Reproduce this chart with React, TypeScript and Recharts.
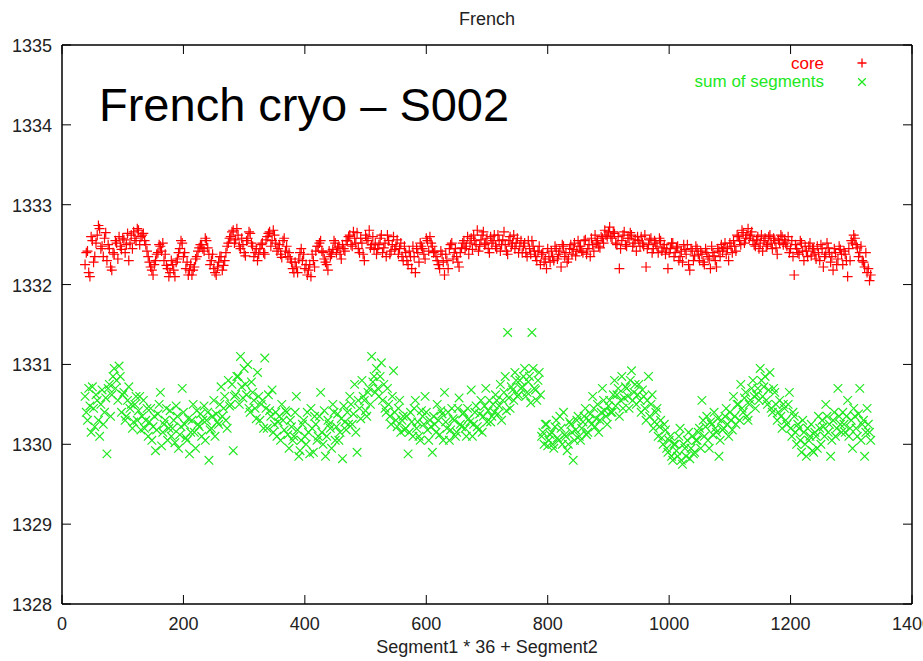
import React from 'react';
import {
  ScatterChart,
  Scatter,
  XAxis,
  YAxis,
  ReferenceLine,
} from 'recharts';

// x = Segment1 * 36 + Segment2; two interleaved samplings (even / odd offsets)
const SEG_START = 38;
const SEG_STEP = 4;
const SEG_OFFSET_B = 2;

const xTicks = [0, 200, 400, 600, 800, 1000, 1200, 1400];
const yTicks = [1328, 1329, 1330, 1331, 1332, 1333, 1334, 1335];

const seriesNames = ['core', 'sum of segments'];

const coreValues = [
  1332.25, 1332.42, 1332.10, 1332.55, 1332.35, 1332.62, 1332.70, 1332.48, 1332.58, 1332.30, 1332.45, 1332.18,
  1332.38, 1332.52, 1332.60, 1332.44, 1332.56, 1332.50, 1332.30, 1332.62, 1332.66, 1332.55, 1332.68, 1332.60,
  1332.64, 1332.50, 1332.35, 1332.22, 1332.12, 1332.30, 1332.40, 1332.48, 1332.52, 1332.38, 1332.20, 1332.15,
  1332.25, 1332.10, 1332.32, 1332.45, 1332.52, 1332.40, 1332.28, 1332.18, 1332.12, 1332.22, 1332.35, 1332.46,
  1332.50, 1332.42, 1332.55, 1332.38, 1332.30, 1332.20, 1332.12, 1332.28, 1332.35, 1332.24, 1332.40, 1332.52,
  1332.60, 1332.68, 1332.56, 1332.62, 1332.45, 1332.50, 1332.36, 1332.58, 1332.64, 1332.48, 1332.40, 1332.30,
  1332.45, 1332.52, 1332.38, 1332.60, 1332.66, 1332.55, 1332.62, 1332.42, 1332.50, 1332.34, 1332.58, 1332.48,
  1332.40, 1332.28, 1332.15, 1332.22, 1332.32, 1332.45, 1332.38, 1332.25, 1332.18, 1332.10, 1332.30, 1332.42,
  1332.48, 1332.55, 1332.40, 1332.28, 1332.18, 1332.35, 1332.44, 1332.52, 1332.46, 1332.38, 1332.50, 1332.42,
  1332.55, 1332.62, 1332.48, 1332.58, 1332.65, 1332.40, 1332.52, 1332.30, 1332.58, 1332.68, 1332.50, 1332.44,
  1332.38, 1332.50, 1332.62, 1332.46, 1332.35, 1332.55, 1332.42, 1332.60, 1332.48, 1332.38, 1332.52, 1332.30,
  1332.40, 1332.25, 1332.35, 1332.48, 1332.15, 1332.40, 1332.52, 1332.45, 1332.32, 1332.55, 1332.60, 1332.48,
  1332.42, 1332.30, 1332.20, 1332.38, 1332.12, 1332.30, 1332.45, 1332.52, 1332.40, 1332.35, 1332.22, 1332.46,
  1332.55, 1332.48, 1332.38, 1332.58, 1332.62, 1332.50, 1332.42, 1332.56, 1332.66, 1332.52, 1332.45, 1332.60,
  1332.55, 1332.48, 1332.62, 1332.42, 1332.56, 1332.50, 1332.38, 1332.60, 1332.52, 1332.45, 1332.58, 1332.48,
  1332.40, 1332.52, 1332.35, 1332.45, 1332.55, 1332.42, 1332.30, 1332.48, 1332.38, 1332.28, 1332.20, 1332.35,
  1332.42, 1332.30, 1332.45, 1332.38, 1332.22, 1332.48, 1332.40, 1332.32, 1332.50, 1332.44, 1332.36, 1332.55,
  1332.48, 1332.40, 1332.56, 1332.45, 1332.35, 1332.50, 1332.62, 1332.55, 1332.46, 1332.58, 1332.68, 1332.60,
  1332.72, 1332.58, 1332.64, 1332.50, 1332.20, 1332.55, 1332.66, 1332.48, 1332.58, 1332.62, 1332.52, 1332.42,
  1332.55, 1332.60, 1332.48, 1332.22, 1332.50, 1332.58, 1332.45, 1332.52, 1332.40, 1332.55, 1332.46, 1332.38,
  1332.20, 1332.45, 1332.52, 1332.40, 1332.48, 1332.35, 1332.28, 1332.44, 1332.50, 1332.18, 1332.42, 1332.36,
  1332.45, 1332.30, 1332.38, 1332.25, 1332.40, 1332.32, 1332.48, 1332.36, 1332.22, 1332.42, 1332.50, 1332.46,
  1332.38, 1332.30, 1332.48, 1332.55, 1332.42, 1332.60, 1332.50, 1332.65, 1332.58, 1332.70, 1332.62, 1332.55,
  1332.48, 1332.60, 1332.52, 1332.42, 1332.58, 1332.50, 1332.62, 1332.45, 1332.55, 1332.38, 1332.52, 1332.60,
  1332.56, 1332.48, 1332.40, 1332.55, 1332.12, 1332.45, 1332.38, 1332.52, 1332.30, 1332.42, 1332.48, 1332.36,
  1332.45, 1332.32, 1332.40, 1332.50, 1332.22, 1332.38, 1332.46, 1332.28, 1332.18, 1332.40, 1332.32, 1332.44,
  1332.25, 1332.38, 1332.10, 1332.30, 1332.52, 1332.58, 1332.46, 1332.40, 1332.30, 1332.22, 1332.15, 1332.05,
];

const coreValuesB = [
  1332.40, 1332.15, 1332.60, 1332.28, 1332.52, 1332.74, 1332.45, 1332.35, 1332.65, 1332.50, 1332.22, 1332.40,
  1332.55, 1332.32, 1332.48, 1332.58, 1332.40, 1332.64, 1332.52, 1332.45, 1332.58, 1332.70, 1332.50, 1332.62,
  1332.55, 1332.42, 1332.28, 1332.18, 1332.25, 1332.38, 1332.50, 1332.42, 1332.30, 1332.24, 1332.10, 1332.30,
  1332.18, 1332.28, 1332.40, 1332.55, 1332.35, 1332.20, 1332.12, 1332.25, 1332.18, 1332.32, 1332.42, 1332.50,
  1332.45, 1332.58, 1332.46, 1332.25, 1332.38, 1332.15, 1332.22, 1332.35, 1332.18, 1332.30, 1332.48, 1332.58,
  1332.66, 1332.52, 1332.70, 1332.48, 1332.58, 1332.40, 1332.55, 1332.66, 1332.52, 1332.35, 1332.45, 1332.38,
  1332.50, 1332.40, 1332.56, 1332.64, 1332.48, 1332.68, 1332.52, 1332.45, 1332.38, 1332.55, 1332.42, 1332.35,
  1332.32, 1332.20, 1332.28, 1332.15, 1332.40, 1332.30, 1332.20, 1332.12, 1332.25, 1332.38, 1332.22, 1332.48,
  1332.52, 1332.42, 1332.32, 1332.25, 1332.42, 1332.38, 1332.55, 1332.40, 1332.48, 1332.32, 1332.45, 1332.55,
  1332.60, 1332.50, 1332.66, 1332.52, 1332.45, 1332.58, 1332.38, 1332.62, 1332.55, 1332.46, 1332.60, 1332.52,
  1332.45, 1332.58, 1332.40, 1332.52, 1332.62, 1332.38, 1332.50, 1332.44, 1332.56, 1332.45, 1332.35, 1332.48,
  1332.30, 1332.42, 1332.20, 1332.35, 1332.45, 1332.28, 1332.48, 1332.38, 1332.58, 1332.42, 1332.52, 1332.40,
  1332.35, 1332.25, 1332.42, 1332.28, 1332.38, 1332.20, 1332.50, 1332.32, 1332.45, 1332.28, 1332.40, 1332.52,
  1332.45, 1332.60, 1332.52, 1332.44, 1332.55, 1332.68, 1332.48, 1332.62, 1332.50, 1332.58, 1332.40, 1332.52,
  1332.62, 1332.45, 1332.55, 1332.50, 1332.66, 1332.42, 1332.55, 1332.48, 1332.62, 1332.52, 1332.40, 1332.55,
  1332.48, 1332.40, 1332.55, 1332.38, 1332.48, 1332.35, 1332.42, 1332.25, 1332.40, 1332.32, 1332.45, 1332.28,
  1332.35, 1332.48, 1332.32, 1332.42, 1332.50, 1332.35, 1332.28, 1332.45, 1332.38, 1332.52, 1332.42, 1332.48,
  1332.42, 1332.55, 1332.38, 1332.50, 1332.58, 1332.42, 1332.52, 1332.48, 1332.60, 1332.52, 1332.62, 1332.66,
  1332.60, 1332.66, 1332.52, 1332.60, 1332.45, 1332.62, 1332.50, 1332.58, 1332.65, 1332.48, 1332.56, 1332.60,
  1332.48, 1332.52, 1332.62, 1332.45, 1332.56, 1332.40, 1332.55, 1332.48, 1332.58, 1332.42, 1332.50, 1332.45,
  1332.40, 1332.52, 1332.35, 1332.46, 1332.30, 1332.42, 1332.50, 1332.38, 1332.25, 1332.45, 1332.30, 1332.48,
  1332.38, 1332.42, 1332.28, 1332.45, 1332.35, 1332.20, 1332.40, 1332.30, 1332.45, 1332.35, 1332.42, 1332.52,
  1332.45, 1332.52, 1332.40, 1332.48, 1332.62, 1332.55, 1332.68, 1332.52, 1332.62, 1332.58, 1332.66, 1332.50,
  1332.56, 1332.45, 1332.62, 1332.55, 1332.48, 1332.60, 1332.52, 1332.58, 1332.46, 1332.56, 1332.62, 1332.50,
  1332.52, 1332.60, 1332.45, 1332.35, 1332.50, 1332.40, 1332.55, 1332.42, 1332.48, 1332.35, 1332.52, 1332.45,
  1332.38, 1332.48, 1332.30, 1332.45, 1332.35, 1332.52, 1332.40, 1332.35, 1332.45, 1332.25, 1332.48, 1332.38,
  1332.42, 1332.30, 1332.45, 1332.55, 1332.62, 1332.50, 1332.35, 1332.48, 1332.28, 1332.40, 1332.20, 1332.12,
];

const sumValues = [
  1330.60, 1330.30, 1330.48, 1330.72, 1330.22, 1330.55, 1330.10, 1330.68, 1330.40, 1329.88, 1330.75, 1330.62,
  1330.95, 1330.80, 1330.98, 1330.40, 1330.65, 1330.35, 1330.72, 1330.50, 1330.28, 1330.60, 1330.42, 1330.18,
  1330.55, 1330.30, 1330.10, 1330.45, 1330.22, 1329.92, 1330.38, 1330.65, 1330.15, 1330.30, 1330.05, 1330.42,
  1330.20, 1330.02, 1330.35, 1330.12, 1330.70, 1330.25, 1330.05, 1329.88, 1330.30, 1330.15, 1330.42, 1330.22,
  1330.10, 1330.48, 1330.30, 1329.80, 1330.20, 1330.55, 1330.38, 1330.25, 1330.72, 1330.45, 1330.30, 1330.80,
  1330.50, 1329.92, 1330.62, 1330.85, 1331.10, 1330.58, 1330.75, 1331.00, 1330.40, 1330.65, 1330.45, 1330.90,
  1330.30, 1330.55, 1331.08, 1330.20, 1330.42, 1330.68, 1330.25, 1330.10, 1330.35, 1330.50, 1330.18, 1330.40,
  1329.95, 1330.22, 1330.10, 1330.60, 1329.85, 1330.05, 1330.30, 1330.00, 1330.15, 1330.45, 1329.90, 1330.25,
  1330.10, 1330.65, 1330.00, 1329.85, 1330.30, 1330.20, 1330.50, 1330.05, 1330.38, 1330.15, 1329.82, 1330.28,
  1330.40, 1330.60, 1330.25, 1330.75, 1329.90, 1330.45, 1330.80, 1330.55, 1330.35, 1330.70, 1331.10, 1330.85,
  1330.95, 1330.60, 1331.02, 1330.75, 1330.40, 1330.50, 1330.25, 1330.92, 1330.30, 1330.45, 1330.15, 1330.35,
  1330.20, 1329.88, 1330.40, 1330.10, 1330.55, 1330.28, 1330.05, 1330.35, 1330.60, 1330.18, 1330.30, 1329.90,
  1330.25, 1330.50, 1330.12, 1330.38, 1330.65, 1330.20, 1330.05, 1330.45, 1330.30, 1330.15, 1330.58, 1330.22,
  1330.40, 1330.10, 1330.32, 1330.68, 1330.25, 1330.48, 1330.18, 1330.55, 1330.35, 1330.70, 1330.42, 1330.28,
  1330.50, 1330.62, 1330.38, 1330.75, 1330.55, 1330.85, 1331.40, 1330.45, 1330.68, 1330.90, 1330.60, 1330.80,
  1330.72, 1330.95, 1330.65, 1330.85, 1331.40, 1330.70, 1330.55, 1330.90, 1330.10, 1330.00, 1330.25, 1330.05,
  1330.15, 1329.95, 1330.30, 1330.05, 1330.20, 1330.40, 1330.10, 1330.00, 1330.25, 1329.80, 1330.18, 1330.35,
  1330.05, 1330.28, 1330.45, 1330.15, 1330.38, 1330.60, 1330.22, 1330.50, 1330.30, 1330.70, 1330.42, 1330.25,
  1330.55, 1330.40, 1330.80, 1330.62, 1330.35, 1330.85, 1330.58, 1330.70, 1330.45, 1330.92, 1330.65, 1330.50,
  1330.75, 1330.40, 1330.60, 1330.30, 1330.85, 1330.50, 1330.20, 1330.40, 1330.10, 1330.30, 1330.00, 1330.18,
  1329.90, 1330.10, 1329.80, 1330.00, 1329.85, 1330.20, 1329.75, 1329.95, 1330.05, 1329.82, 1330.10, 1329.90,
  1330.05, 1330.20, 1330.55, 1330.10, 1330.35, 1329.95, 1330.25, 1330.40, 1330.15, 1329.85, 1330.30, 1330.20,
  1330.45, 1330.10, 1330.30, 1330.60, 1330.25, 1330.50, 1330.75, 1330.40, 1330.65, 1330.30, 1330.55, 1330.80,
  1330.45, 1330.70, 1330.95, 1330.60, 1330.85, 1330.50, 1330.90, 1330.40, 1330.65, 1330.30, 1330.55, 1330.20,
  1330.45, 1330.25, 1330.65, 1330.10, 1330.35, 1330.00, 1330.20, 1329.90, 1330.15, 1329.85, 1330.05, 1330.25,
  1329.90, 1330.10, 1330.35, 1330.00, 1330.22, 1330.50, 1330.15, 1329.85, 1330.30, 1330.10, 1330.70, 1330.25,
  1330.40, 1330.15, 1330.55, 1330.20, 1329.95, 1330.35, 1330.10, 1330.70, 1330.25, 1329.85, 1330.45, 1330.15,
];

const sumValuesB = [
  1330.40, 1330.70, 1330.15, 1330.45, 1330.62, 1330.30, 1330.50, 1330.25, 1330.58, 1330.70, 1330.35, 1330.85,
  1330.70, 1330.55, 1330.85, 1330.62, 1330.30, 1330.55, 1330.45, 1330.20, 1330.50, 1330.30, 1330.60, 1330.35,
  1330.20, 1330.45, 1330.28, 1330.05, 1330.35, 1330.18, 1330.50, 1329.98, 1330.25, 1330.45, 1330.20, 1330.10,
  1330.30, 1330.48, 1329.95, 1330.22, 1330.40, 1330.08, 1330.32, 1330.15, 1330.50, 1329.95, 1330.25, 1330.38,
  1330.30, 1330.05, 1330.40, 1330.18, 1330.35, 1330.10, 1330.28, 1330.50, 1330.35, 1330.60, 1330.20, 1330.48,
  1330.75, 1330.60, 1330.85, 1330.50, 1330.72, 1330.95, 1330.62, 1330.45, 1330.78, 1330.55, 1330.32, 1330.60,
  1330.50, 1330.20, 1330.45, 1330.62, 1330.35, 1330.15, 1330.40, 1330.28, 1330.05, 1330.30, 1330.42, 1330.12,
  1330.30, 1330.05, 1330.40, 1330.18, 1329.92, 1330.25, 1330.10, 1330.40, 1329.88, 1330.20, 1330.35, 1330.05,
  1330.35, 1330.15, 1330.42, 1330.10, 1330.25, 1329.95, 1330.40, 1330.22, 1330.05, 1330.32, 1330.48, 1330.18,
  1330.25, 1330.50, 1330.38, 1330.15, 1330.55, 1330.32, 1330.60, 1330.42, 1330.65, 1330.50, 1330.78, 1330.65,
  1330.70, 1330.85, 1330.55, 1330.45, 1330.70, 1330.35, 1330.60, 1330.40, 1330.22, 1330.55, 1330.30, 1330.18,
  1330.35, 1330.15, 1330.28, 1330.45, 1330.20, 1330.10, 1330.42, 1330.25, 1330.40, 1330.05, 1330.22, 1330.35,
  1330.15, 1330.30, 1330.42, 1330.05, 1330.28, 1330.40, 1330.18, 1330.32, 1330.10, 1330.45, 1330.25, 1330.38,
  1330.20, 1330.45, 1330.28, 1330.10, 1330.40, 1330.22, 1330.38, 1330.15, 1330.48, 1330.28, 1330.55, 1330.35,
  1330.40, 1330.55, 1330.48, 1330.30, 1330.65, 1330.42, 1330.58, 1330.72, 1330.55, 1330.80, 1330.62, 1330.70,
  1330.85, 1330.60, 1330.78, 1330.52, 1330.95, 1330.68, 1330.80, 1330.62, 1330.15, 1330.25, 1329.98, 1330.12,
  1330.00, 1330.22, 1330.08, 1330.35, 1330.00, 1330.12, 1329.92, 1330.28, 1330.15, 1330.05, 1330.30, 1330.10,
  1330.20, 1330.35, 1330.12, 1330.30, 1330.25, 1330.45, 1330.32, 1330.15, 1330.40, 1330.55, 1330.35, 1330.48,
  1330.40, 1330.62, 1330.48, 1330.70, 1330.55, 1330.45, 1330.72, 1330.60, 1330.80, 1330.55, 1330.75, 1330.62,
  1330.55, 1330.68, 1330.45, 1330.55, 1330.35, 1330.62, 1330.28, 1330.45, 1330.22, 1330.08, 1330.25, 1329.95,
  1330.05, 1329.85, 1330.00, 1329.92, 1330.10, 1329.80, 1330.00, 1329.85, 1330.15, 1329.95, 1329.88, 1330.05,
  1330.15, 1329.95, 1330.30, 1330.22, 1330.05, 1330.28, 1330.12, 1330.20, 1330.32, 1330.05, 1330.18, 1330.35,
  1330.25, 1330.40, 1330.18, 1330.35, 1330.50, 1330.30, 1330.45, 1330.58, 1330.35, 1330.50, 1330.70, 1330.60,
  1330.62, 1330.55, 1330.80, 1330.72, 1330.55, 1330.68, 1330.45, 1330.70, 1330.50, 1330.40, 1330.35, 1330.50,
  1330.30, 1330.50, 1330.20, 1330.40, 1330.15, 1330.25, 1330.05, 1330.30, 1330.00, 1330.20, 1330.10, 1329.92,
  1330.15, 1329.95, 1330.20, 1330.30, 1330.10, 1330.35, 1330.25, 1330.05, 1330.40, 1330.20, 1330.35, 1330.15,
  1330.25, 1330.35, 1330.10, 1330.30, 1330.45, 1330.20, 1330.38, 1330.05, 1330.30, 1330.15, 1330.25, 1330.05,
];

const toPoints = (vals: number[], offset: number) =>
  vals.map((v, i) => ({ x: SEG_START + offset + i * SEG_STEP, y: v }));

const coreData = [...toPoints(coreValues, 0), ...toPoints(coreValuesB, SEG_OFFSET_B)];
const sumData = [...toPoints(sumValues, 0), ...toPoints(sumValuesB, SEG_OFFSET_B)];

const W = 923;
const H = 661;
const MARGIN = { top: 45, right: 11, bottom: 27, left: 2 };
const Y_AXIS_W = 60;
const X_AXIS_H = 30;
const PLOT_LEFT = MARGIN.left + Y_AXIS_W;
const PLOT_RIGHT = W - MARGIN.right;
const PLOT_TOP = MARGIN.top;
const TICK_LEN = 9;

const RED = '#ff0000';
const GREEN = '#22e822';
const FONT = '"Liberation Sans", Arial, Helvetica, sans-serif';

const plusPath = (cx: number, cy: number, r: number) =>
  `M${cx - r},${cy}H${cx + r}M${cx},${cy - r}V${cy + r}`;
const crossPath = (cx: number, cy: number, r: number) =>
  `M${cx - r},${cy - r}L${cx + r},${cy + r}M${cx - r},${cy + r}L${cx + r},${cy - r}`;

const PlusMark = (props: any) => {
  const { cx, cy } = props;
  if (cx == null || cy == null) return null;
  return <path d={plusPath(cx, cy, 5)} stroke={RED} strokeWidth={1.2} fill="none" />;
};

const CrossMark = (props: any) => {
  const { cx, cy } = props;
  if (cx == null || cy == null) return null;
  return <path d={crossPath(cx, cy, 4.3)} stroke={GREEN} strokeWidth={1.2} fill="none" />;
};

// bottom ticks point inward, mirrored on the top border
const XTick = (props: any) => {
  const { x, y, payload } = props;
  return (
    <g>
      <line x1={x} y1={y} x2={x} y2={y - TICK_LEN} stroke="#000" />
      <line x1={x} y1={PLOT_TOP} x2={x} y2={PLOT_TOP + TICK_LEN} stroke="#000" />
      <text x={x} y={y + 26} textAnchor="middle" fontSize={18} fontFamily={FONT} fill="#222">
        {payload.value}
      </text>
    </g>
  );
};

// left ticks point inward, mirrored on the right border
const YTick = (props: any) => {
  const { y, payload } = props;
  return (
    <g>
      <line x1={PLOT_LEFT} y1={y} x2={PLOT_LEFT + TICK_LEN} y2={y} stroke="#000" />
      <line x1={PLOT_RIGHT} y1={y} x2={PLOT_RIGHT - TICK_LEN} y2={y} stroke="#000" />
      <text x={PLOT_LEFT - 10} y={y + 7} textAnchor="end" fontSize={18} fontFamily={FONT} fill="#222">
        {payload.value}
      </text>
    </g>
  );
};

export default function App() {
  return (
    <div style={{ position: 'absolute', left: 0, top: 0, width: W, height: H, background: '#fff' }}>
      <ScatterChart width={W} height={H} margin={MARGIN}>
        <XAxis
          type="number"
          dataKey="x"
          domain={[0, 1400]}
          ticks={xTicks}
          allowDataOverflow
          height={X_AXIS_H}
          tickSize={0}
          tickMargin={0}
          tickLine={false}
          axisLine={{ stroke: '#000', strokeWidth: 1.5 }}
          tick={<XTick />}
          interval={0}
        />
        <YAxis
          type="number"
          dataKey="y"
          domain={[1328, 1335]}
          ticks={yTicks}
          allowDataOverflow
          width={Y_AXIS_W}
          tickSize={0}
          tickMargin={0}
          tickLine={false}
          axisLine={{ stroke: '#000', strokeWidth: 1.5 }}
          tick={<YTick />}
          interval={0}
        />
        <ReferenceLine y={1335} stroke="#000" strokeWidth={1.5} />
        <ReferenceLine x={1400} stroke="#000" strokeWidth={1.5} />
        <Scatter
          name={seriesNames[0]}
          data={coreData}
          shape={<PlusMark />}
          isAnimationActive={false}
        />
        <Scatter
          name={seriesNames[1]}
          data={sumData}
          shape={<CrossMark />}
          isAnimationActive={false}
        />
      </ScatterChart>
      <svg
        width={W}
        height={H}
        style={{ position: 'absolute', left: 0, top: 0, pointerEvents: 'none' }}
      >
        <text x={487} y={25} textAnchor="middle" fontSize={18} fontFamily={FONT} fill="#222">
          French
        </text>
        <text x={99} y={121} fontSize={47} fontFamily={FONT} fill="#000">
          French cryo – S002
        </text>
        <text x={487} y={653} textAnchor="middle" fontSize={18} fontFamily={FONT} fill="#222">
          Segment1 * 36 + Segment2
        </text>
        {/* key, top right */}
        <text x={824} y={69} textAnchor="end" fontSize={17} fontFamily={FONT} fill={RED}>
          {seriesNames[0]}
        </text>
        <path d={plusPath(862, 63, 4.5)} stroke={RED} strokeWidth={1.3} />
        <text x={824} y={87} textAnchor="end" fontSize={17} fontFamily={FONT} fill={GREEN}>
          {seriesNames[1]}
        </text>
        <path d={crossPath(862, 82, 3.8)} stroke={GREEN} strokeWidth={1.3} />
      </svg>
    </div>
  );
}
